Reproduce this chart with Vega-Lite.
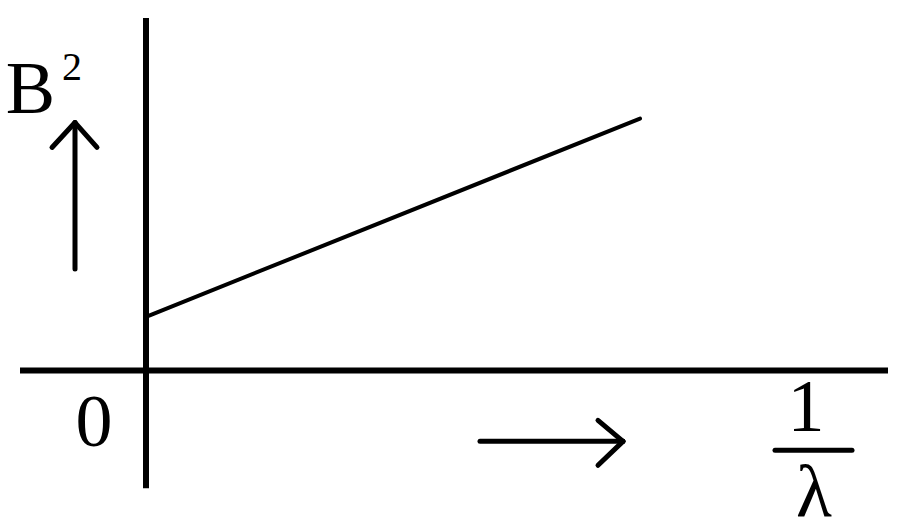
{
  "$schema": "https://vega.github.io/schema/vega-lite/v6.json",
  "width": 900,
  "height": 531,
  "padding": 0,
  "autosize": {"type": "fit", "contains": "padding"},
  "background": "white",
  "config": {"view": {"stroke": null}},
  "datasets": {
    "segs": [
      {"part": "axis", "x": 0, "y": 7.08, "x2": 0, "y2": -2.36},
      {"part": "axis", "x": -2.52, "y": 0, "x2": 14.84, "y2": 0},
      {"part": "line", "x": 0, "y": 1.08, "x2": 9.88, "y2": 5.06},
      {"part": "arrow", "x": -1.42, "y": 2.04, "x2": -1.42, "y2": 4.98},
      {"part": "arrow", "x": -1.88, "y": 4.48, "x2": -1.42, "y2": 4.98},
      {"part": "arrow", "x": -0.98, "y": 4.48, "x2": -1.42, "y2": 4.98},
      {"part": "arrow", "x": 6.68, "y": -1.42, "x2": 9.54, "y2": -1.42},
      {"part": "arrow", "x": 9.04, "y": -1.0, "x2": 9.54, "y2": -1.42},
      {"part": "arrow", "x": 9.04, "y": -1.9, "x2": 9.54, "y2": -1.42},
      {"part": "arrow", "x": 12.58, "y": -1.6, "x2": 14.12, "y2": -1.6}
    ],
    "labels": [
      {"part": "big", "label": "B", "x": -2.31, "y": 5.18},
      {"part": "small", "label": "2", "x": -1.48, "y": 5.84},
      {"part": "big", "label": "0", "x": -1.04, "y": -1.52},
      {"part": "big", "label": "1", "x": 13.2, "y": -1.22},
      {"part": "big", "label": "λ", "x": 13.36, "y": -2.92}
    ]
  },
  "encoding": {
    "x": {"field": "x", "type": "quantitative", "axis": null,
      "scale": {"domain": [-2.92, 15.08], "nice": false, "zero": false}},
    "y": {"field": "y", "type": "quantitative", "axis": null,
      "scale": {"domain": [-3.18, 7.44], "nice": false, "zero": false}}
  },
  "layer": [
    {
      "data": {"name": "segs"},
      "transform": [{"filter": "datum.part === 'axis'"}],
      "mark": {"type": "rule", "color": "black", "strokeWidth": 6},
      "encoding": {"x2": {"field": "x2"}, "y2": {"field": "y2"}}
    },
    {
      "data": {"name": "segs"},
      "transform": [{"filter": "datum.part === 'line'"}],
      "mark": {"type": "rule", "color": "black", "strokeWidth": 4, "strokeCap": "round"},
      "encoding": {"x2": {"field": "x2"}, "y2": {"field": "y2"}}
    },
    {
      "data": {"name": "segs"},
      "transform": [{"filter": "datum.part === 'arrow'"}],
      "mark": {"type": "rule", "color": "black", "strokeWidth": 5, "strokeCap": "round"},
      "encoding": {"x2": {"field": "x2"}, "y2": {"field": "y2"}}
    },
    {
      "data": {"name": "labels"},
      "transform": [{"filter": "datum.part === 'big'"}],
      "mark": {"type": "text", "font": "Liberation Serif", "fontSize": 74,
        "baseline": "alphabetic", "align": "center", "color": "black"},
      "encoding": {"text": {"field": "label"}}
    },
    {
      "data": {"name": "labels"},
      "transform": [{"filter": "datum.part === 'small'"}],
      "mark": {"type": "text", "font": "Liberation Serif", "fontSize": 40,
        "baseline": "alphabetic", "align": "center", "color": "black"},
      "encoding": {"text": {"field": "label"}}
    }
  ]
}
